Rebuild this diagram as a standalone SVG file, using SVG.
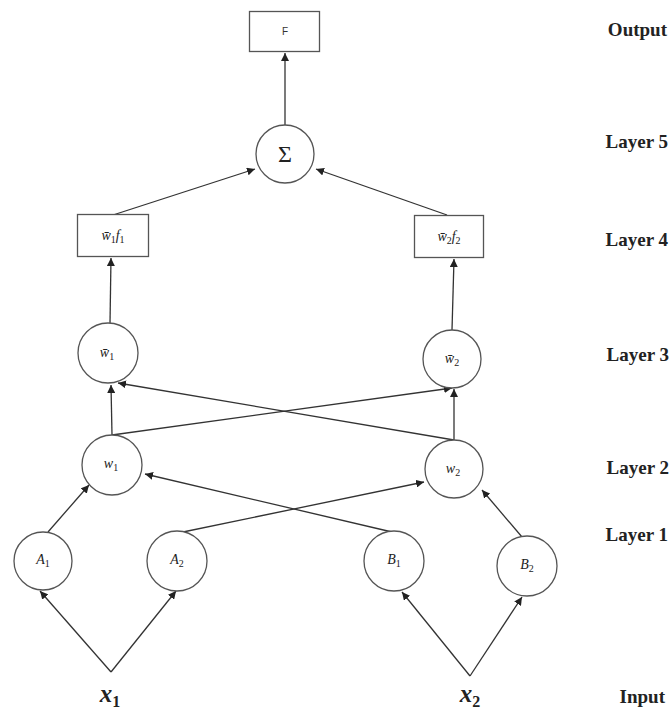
<svg xmlns="http://www.w3.org/2000/svg" width="671" height="715" viewBox="0 0 671 715">
  <defs>
    <marker id="arrow" viewBox="0 0 10 10" refX="10" refY="5" markerWidth="8" markerHeight="8" markerUnits="userSpaceOnUse" orient="auto">
      <path d="M0,0 L10,5 L0,10 z" fill="#222"/>
    </marker>
    <style>
      .node { fill: #fff; stroke: #555; stroke-width: 1.3; }
      .edge { stroke: #333; stroke-width: 1.3; fill: none; marker-end: url(#arrow); }
      .lbl { font-family: "Liberation Serif", "DejaVu Serif", serif; font-style: italic; font-size: 14px; fill: #222; text-anchor: middle; }
      .sub { font-size: 10px; font-style: normal; }
      .layer { font-family: "Liberation Serif", "DejaVu Serif", serif; font-weight: bold; font-size: 19px; fill: #222; text-anchor: end; }
      .inp { font-family: "Liberation Serif", "DejaVu Serif", serif; font-weight: bold; font-style: italic; font-size: 25px; fill: #222; text-anchor: middle; }
      .inpsub { font-size: 16px; font-style: normal; }
    </style>
  </defs>
  <rect width="671" height="715" fill="#fff"/>

  <!-- connectors -->
  <g id="connectors">
    <line class="edge" x1="111" y1="672" x2="40" y2="591"/>
    <line class="edge" x1="111" y1="672" x2="176" y2="591"/>
    <line class="edge" x1="470" y1="676" x2="402" y2="592"/>
    <line class="edge" x1="470" y1="676" x2="522" y2="597"/>
    <line class="edge" x1="48" y1="532" x2="89" y2="485"/>
    <line class="edge" x1="183" y1="532" x2="424" y2="482"/>
    <line class="edge" x1="392" y1="532" x2="145" y2="474"/>
    <line class="edge" x1="522" y1="537" x2="482" y2="490"/>
    <line class="edge" x1="112" y1="435" x2="111" y2="385"/>
    <line class="edge" x1="112" y1="435" x2="452" y2="388"/>
    <line class="edge" x1="454" y1="440" x2="118" y2="383"/>
    <line class="edge" x1="454" y1="440" x2="454" y2="389"/>
    <line class="edge" x1="110" y1="323" x2="111" y2="258"/>
    <line class="edge" x1="452" y1="330" x2="454" y2="259"/>
    <line class="edge" x1="113" y1="215" x2="255" y2="169"/>
    <line class="edge" x1="447" y1="215" x2="316" y2="169"/>
    <line class="edge" x1="285" y1="125" x2="285" y2="53"/>
  </g>

  <!-- output -->
  <g id="out-F">
    <rect class="node" x="249.5" y="11.5" width="70" height="40"/>
    <text x="285" y="35" font-family="Liberation Sans, Arial, sans-serif" font-size="10" fill="#333" text-anchor="middle">F</text>
  </g>

  <!-- layer 5 -->
  <g id="sum">
    <circle class="node" cx="285" cy="154" r="29"/>
    <text x="285" y="162" font-family="Liberation Serif, serif" font-size="24" fill="#222" text-anchor="middle">Σ</text>
  </g>

  <!-- layer 4 -->
  <g id="wf1">
    <rect class="node" x="77.5" y="214.5" width="71" height="42"/>
    <text class="lbl" x="113" y="240">w̄<tspan class="sub" dy="3">1</tspan><tspan dy="-3">f</tspan><tspan class="sub" dy="3">1</tspan></text>
  </g>
  <g id="wf2">
    <rect class="node" x="414.5" y="215.5" width="69" height="42"/>
    <text class="lbl" x="449" y="241">w̄<tspan class="sub" dy="3">2</tspan><tspan dy="-3">f</tspan><tspan class="sub" dy="3">2</tspan></text>
  </g>

  <!-- layer 3 -->
  <g id="wn1">
    <circle class="node" cx="108" cy="353" r="30"/>
    <text class="lbl" x="107" y="357">w̄<tspan class="sub" dy="3">1</tspan></text>
  </g>
  <g id="wn2">
    <circle class="node" cx="452" cy="359" r="29"/>
    <text class="lbl" x="452" y="363">w̄<tspan class="sub" dy="3">2</tspan></text>
  </g>

  <!-- layer 2 -->
  <g id="w1">
    <circle class="node" cx="112" cy="465" r="30"/>
    <text class="lbl" x="111" y="468">w<tspan class="sub" dy="3">1</tspan></text>
  </g>
  <g id="w2">
    <circle class="node" cx="454" cy="469" r="29"/>
    <text class="lbl" x="453" y="473">w<tspan class="sub" dy="3">2</tspan></text>
  </g>

  <!-- layer 1 -->
  <g id="A1">
    <circle class="node" cx="43" cy="561" r="29"/>
    <text class="lbl" x="43" y="564">A<tspan class="sub" dy="3">1</tspan></text>
  </g>
  <g id="A2">
    <circle class="node" cx="177" cy="561" r="30"/>
    <text class="lbl" x="177" y="564">A<tspan class="sub" dy="3">2</tspan></text>
  </g>
  <g id="B1">
    <circle class="node" cx="394" cy="561" r="30"/>
    <text class="lbl" x="394" y="564">B<tspan class="sub" dy="3">1</tspan></text>
  </g>
  <g id="B2">
    <circle class="node" cx="527" cy="566" r="30"/>
    <text class="lbl" x="527" y="569">B<tspan class="sub" dy="3">2</tspan></text>
  </g>

  <!-- inputs -->
  <g id="x1">
    <text class="inp" x="110" y="702">x<tspan class="inpsub" dy="5">1</tspan></text>
  </g>
  <g id="x2">
    <text class="inp" x="470" y="702">x<tspan class="inpsub" dy="5">2</tspan></text>
  </g>

  <!-- layer captions -->
  <g id="captions">
    <text class="layer" x="667" y="36">Output</text>
    <text class="layer" x="668" y="148">Layer 5</text>
    <text class="layer" x="668" y="246">Layer 4</text>
    <text class="layer" x="669" y="361">Layer 3</text>
    <text class="layer" x="669" y="474">Layer 2</text>
    <text class="layer" x="668" y="541">Layer 1</text>
    <text class="layer" x="665" y="703">Input</text>
  </g>
</svg>
